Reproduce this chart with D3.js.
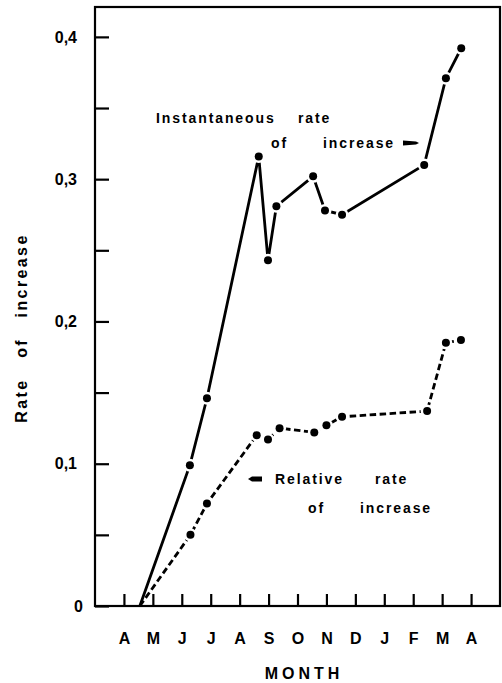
<!DOCTYPE html>
<html><head><meta charset="utf-8">
<script src="https://cdn.jsdelivr.net/npm/d3@7"></script>
<style>
body{margin:0;background:#fff}
text{font-family:"Liberation Sans",Arial,sans-serif;font-weight:bold;fill:#000}
</style>
</head><body>
<svg id="c" width="502" height="683"></svg>
<script>
// ---- data ----
const months = ["A","M","J","J","A","S","O","N","D","J","F","M","A"];
const yMajor = [0, 0.1, 0.2, 0.3, 0.4];
const yMajorLabels = ["0", "0,1", "0,2", "0,3", "0,4"];
const yMinor = [0.05, 0.15, 0.25, 0.35];
// month position: 0 = April, 1 = May, ...
const instMonth = [0.55, 2.28, 2.87, 4.66, 4.98, 5.27, 6.54, 6.95, 7.54, 10.38, 11.13, 11.66];
const instRate  = [0,    0.099, 0.146, 0.316, 0.243, 0.281, 0.302, 0.278, 0.275, 0.310, 0.371, 0.392];
const relMonth  = [0.55, 2.30, 2.87, 4.59, 4.98, 5.38, 6.58, 7.00, 7.54, 10.48, 11.13, 11.65];
const relRate   = [0,    0.050, 0.072, 0.120, 0.117, 0.125, 0.122, 0.127, 0.133, 0.137, 0.185, 0.187];

// ---- chart ----
const svg = d3.select("#c");
const x = d3.scaleLinear().domain([-1, 13]).range([95, 500]);
const y = d3.scaleLinear().domain([0, 0.421]).range([606, 7]);

// frame
svg.append("rect")
  .attr("x", x(-1)).attr("y", y(0.421))
  .attr("width", x(13) - x(-1)).attr("height", y(0) - y(0.421))
  .attr("fill", "none").attr("stroke", "#000").attr("stroke-width", 2.2);

// x axis
const gx = svg.append("g").attr("transform", `translate(0,${y(0)})`)
  .call(d3.axisBottom(x).tickValues(d3.range(months.length))
    .tickSize(-12).tickPadding(27).tickFormat((d, i) => months[i]));
gx.select(".domain").remove();
gx.selectAll("line").attr("stroke-width", 2.2);
gx.selectAll("text").style("font-size", "16px").style("font-family", null);

// y axis
const yAll = yMajor.concat(yMinor).sort((a, b) => a - b);
const gy = svg.append("g").attr("transform", `translate(${x(-1)},0)`)
  .call(d3.axisLeft(y).tickValues(yAll).tickSize(-14).tickPadding(18)
    .tickFormat(d => { const i = yMajor.findIndex(v => Math.abs(v - d) < 1e-9); return i >= 0 ? yMajorLabels[i] : ""; }));
gy.select(".domain").remove();
gy.selectAll("line").attr("stroke-width", 2.2);
gy.selectAll("text").style("font-size", "16px").style("font-family", null)
  .attr("dx", d => d === 0 ? 6 : 0);

// axis titles
svg.append("text").attr("x", 304).attr("y", 679).attr("text-anchor", "middle")
  .style("font-size", "16px").style("letter-spacing", "4px").text("MONTH");
svg.append("text").attr("transform", "translate(21,328) rotate(-90)")
  .attr("text-anchor", "middle").attr("dy", "0.35em")
  .style("font-size", "16px").style("letter-spacing", "2.4px").style("white-space", "pre")
  .text("Rate   of   increase");

// lines
const inst = instMonth.map((m, i) => [m, instRate[i]]);
const rel = relMonth.map((m, i) => [m, relRate[i]]);
const line = d3.line().x(d => x(d[0])).y(d => y(d[1]));
svg.append("path").datum(inst).attr("d", line)
  .attr("fill", "none").attr("stroke", "#000").attr("stroke-width", 2.8);
svg.append("path").datum(rel).attr("d", line)
  .attr("fill", "none").attr("stroke", "#000").attr("stroke-width", 2.8)
  .attr("stroke-dasharray", "6.5,3.5");

// dots with white halo (gaps)
const pts = inst.slice(1).concat(rel.slice(1));
svg.append("g").selectAll("circle").data(pts).join("circle")
  .attr("cx", d => x(d[0])).attr("cy", d => y(d[1])).attr("r", 6.5).attr("fill", "#fff");
svg.append("g").selectAll("circle").data(pts).join("circle")
  .attr("cx", d => x(d[0])).attr("cy", d => y(d[1])).attr("r", 4).attr("fill", "#000");

// annotations
function label(px, py, s) {
  svg.append("text").attr("x", px).attr("y", py)
    .style("font-size", "14px").style("letter-spacing", "1.9px").text(s);
}
label(156, 123, "Instantaneous");
label(298, 123, "rate");
label(271, 148, "of");
label(323, 148, "increase");
label(275, 484, "Relative");
label(375, 484, "rate");
label(308, 513, "of");
label(360, 513, "increase");
// small arrow marks
svg.append("path").attr("d", "M403,140.5 L416,141.5 L419,143 L416,144.5 L403,145.5 Z").attr("fill", "#000");
svg.append("path").attr("d", "M248,479 L252,476.5 L262,476.5 L262,481.5 L252,481.5 Z").attr("fill", "#000");
</script>
</body></html>
